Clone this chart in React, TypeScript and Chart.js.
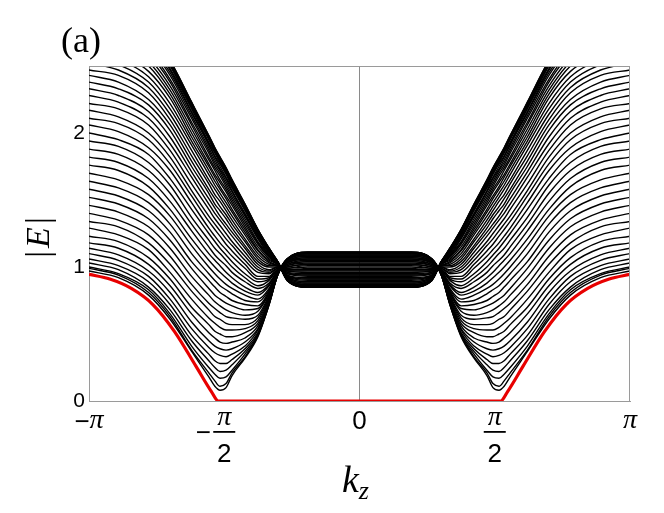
import React, { useEffect, useRef } from 'react';
import { Chart, registerables } from 'chart.js';

Chart.register(...registerables);

// sample positions of k_z on the left half (the figure is mirror-symmetric about k_z = 0)
const KZ_LEFT = [-3.1416, -2.8, -2.45, -2.2, -1.95, -1.75, -1.68, -1.62, -1.55, -1.48, -1.33, -1.18, -1.05, -0.95, -0.84, -0.6, 0];

// |E| of the 50 black bands, one list per k_z sample (band 1 ... band 50)
const E_KZ_M3_14 = [0.97,0.99,1.00,1.03,1.06,1.10,1.14,1.18,1.23,1.29,1.34,1.40,1.46,1.52,1.58,1.64,1.70,1.76,1.82,1.88,1.94,2.00,2.06,2.11,2.17,2.22,2.28,2.33,2.38,2.43,2.47,2.52,2.56,2.60,2.64,2.68,2.71,2.74,2.77,2.80,2.83,2.85,2.87,2.89,2.91,2.92,2.93,2.94,2.94,2.95];
const E_KZ_M2_80 = [0.92,0.94,0.95,0.98,1.01,1.05,1.09,1.14,1.19,1.24,1.30,1.35,1.41,1.47,1.53,1.59,1.65,1.72,1.78,1.84,1.90,1.95,2.01,2.07,2.12,2.18,2.23,2.28,2.33,2.38,2.43,2.47,2.51,2.55,2.59,2.63,2.66,2.69,2.72,2.75,2.78,2.80,2.82,2.84,2.86,2.87,2.88,2.89,2.90,2.90];
const E_KZ_M2_45 = [0.79,0.81,0.83,0.85,0.89,0.93,0.97,1.02,1.07,1.13,1.18,1.24,1.30,1.36,1.42,1.48,1.54,1.60,1.66,1.72,1.78,1.84,1.89,1.95,2.00,2.06,2.11,2.16,2.21,2.25,2.30,2.34,2.38,2.42,2.46,2.50,2.53,2.56,2.59,2.62,2.64,2.66,2.68,2.70,2.72,2.73,2.74,2.75,2.76,2.76];
const E_KZ_M2_20 = [0.61,0.63,0.65,0.68,0.72,0.76,0.81,0.86,0.91,0.96,1.02,1.08,1.14,1.20,1.26,1.32,1.38,1.43,1.49,1.55,1.61,1.66,1.72,1.77,1.82,1.87,1.92,1.97,2.02,2.06,2.10,2.14,2.18,2.22,2.26,2.29,2.32,2.35,2.38,2.40,2.43,2.45,2.47,2.48,2.50,2.51,2.52,2.53,2.54,2.54];
const E_KZ_M1_95 = [0.37,0.38,0.41,0.45,0.49,0.54,0.59,0.65,0.70,0.76,0.82,0.87,0.93,0.99,1.04,1.10,1.16,1.21,1.27,1.32,1.37,1.43,1.48,1.53,1.57,1.62,1.67,1.71,1.75,1.79,1.83,1.87,1.91,1.94,1.97,2.00,2.03,2.06,2.08,2.11,2.13,2.15,2.16,2.18,2.19,2.20,2.21,2.22,2.23,2.23];
const E_KZ_M1_75 = [0.18,0.21,0.25,0.30,0.35,0.40,0.45,0.51,0.57,0.62,0.68,0.73,0.79,0.84,0.90,0.95,1.00,1.05,1.10,1.15,1.20,1.25,1.29,1.34,1.38,1.43,1.47,1.51,1.55,1.58,1.62,1.65,1.69,1.72,1.75,1.77,1.80,1.82,1.85,1.87,1.89,1.91,1.92,1.93,1.95,1.96,1.97,1.97,1.98,1.98];
const E_KZ_M1_68 = [0.11,0.15,0.20,0.25,0.30,0.36,0.41,0.47,0.52,0.58,0.63,0.69,0.74,0.79,0.85,0.90,0.95,1.00,1.05,1.09,1.14,1.19,1.23,1.28,1.32,1.36,1.40,1.44,1.47,1.51,1.54,1.58,1.61,1.64,1.67,1.69,1.72,1.74,1.76,1.78,1.80,1.82,1.83,1.85,1.86,1.87,1.88,1.88,1.89,1.89];
const E_KZ_M1_62 = [0.08,0.11,0.17,0.22,0.28,0.34,0.39,0.44,0.50,0.55,0.61,0.66,0.71,0.76,0.81,0.86,0.91,0.96,1.01,1.05,1.10,1.14,1.18,1.23,1.27,1.31,1.35,1.38,1.42,1.45,1.49,1.52,1.55,1.58,1.60,1.63,1.65,1.68,1.70,1.72,1.73,1.75,1.77,1.78,1.79,1.80,1.81,1.81,1.82,1.82];
const E_KZ_M1_55 = [0.10,0.13,0.18,0.23,0.28,0.33,0.38,0.43,0.48,0.53,0.58,0.63,0.68,0.73,0.78,0.83,0.87,0.92,0.96,1.01,1.05,1.09,1.13,1.17,1.21,1.25,1.29,1.32,1.36,1.39,1.42,1.45,1.48,1.51,1.53,1.56,1.58,1.60,1.62,1.64,1.66,1.67,1.69,1.70,1.71,1.72,1.73,1.73,1.74,1.74];
const E_KZ_M1_48 = [0.19,0.21,0.23,0.27,0.31,0.35,0.39,0.44,0.48,0.53,0.57,0.62,0.66,0.71,0.75,0.80,0.84,0.88,0.92,0.96,1.00,1.04,1.08,1.12,1.16,1.19,1.23,1.26,1.29,1.32,1.35,1.38,1.41,1.43,1.46,1.48,1.50,1.52,1.54,1.56,1.57,1.59,1.60,1.61,1.62,1.63,1.64,1.64,1.65,1.65];
const E_KZ_M1_33 = [0.32,0.33,0.35,0.37,0.39,0.41,0.44,0.47,0.51,0.54,0.57,0.61,0.64,0.68,0.72,0.75,0.79,0.82,0.85,0.89,0.92,0.95,0.99,1.02,1.05,1.08,1.11,1.14,1.16,1.19,1.21,1.24,1.26,1.28,1.30,1.32,1.34,1.36,1.38,1.39,1.40,1.42,1.43,1.44,1.45,1.45,1.46,1.46,1.47,1.47];
const E_KZ_M1_18 = [0.48,0.49,0.49,0.50,0.51,0.53,0.54,0.56,0.58,0.60,0.62,0.64,0.67,0.69,0.71,0.74,0.76,0.79,0.81,0.84,0.86,0.89,0.91,0.93,0.96,0.98,1.00,1.02,1.04,1.06,1.08,1.10,1.12,1.13,1.15,1.17,1.18,1.19,1.21,1.22,1.23,1.24,1.25,1.25,1.26,1.27,1.27,1.28,1.28,1.28];
const E_KZ_M1_05 = [0.72,0.72,0.72,0.73,0.73,0.74,0.74,0.75,0.76,0.77,0.78,0.79,0.80,0.81,0.82,0.83,0.84,0.86,0.87,0.88,0.90,0.91,0.92,0.93,0.95,0.96,0.97,0.98,1.00,1.01,1.02,1.03,1.04,1.05,1.06,1.07,1.08,1.09,1.09,1.10,1.11,1.11,1.12,1.12,1.13,1.13,1.13,1.14,1.14,1.14];
const E_KZ_M0_95 = [0.94,0.94,0.94,0.94,0.94,0.94,0.95,0.95,0.95,0.95,0.95,0.95,0.96,0.96,0.96,0.96,0.97,0.97,0.97,0.97,0.98,0.98,0.98,0.99,0.99,0.99,1.00,1.00,1.00,1.01,1.01,1.01,1.01,1.02,1.02,1.02,1.02,1.03,1.03,1.03,1.03,1.03,1.04,1.04,1.04,1.04,1.04,1.04,1.04,1.04];
const E_KZ_M0_84 = [1.06,1.06,1.06,1.06,1.06,1.06,1.06,1.05,1.05,1.05,1.04,1.04,1.04,1.03,1.03,1.03,1.02,1.02,1.01,1.01,1.00,1.00,0.99,0.99,0.98,0.98,0.98,0.97,0.97,0.96,0.96,0.95,0.95,0.94,0.94,0.93,0.93,0.93,0.92,0.92,0.92,0.91,0.91,0.91,0.91,0.91,0.90,0.90,0.90,0.90];
const E_KZ_M0_60 = [1.11,1.11,1.11,1.11,1.10,1.10,1.10,1.10,1.09,1.09,1.08,1.08,1.07,1.07,1.06,1.06,1.05,1.04,1.04,1.03,1.02,1.02,1.01,1.00,0.99,0.98,0.98,0.97,0.96,0.95,0.94,0.94,0.93,0.92,0.91,0.91,0.90,0.89,0.89,0.88,0.88,0.87,0.87,0.86,0.86,0.86,0.85,0.85,0.85,0.85];
const E_KZ_0 = [1.11,1.11,1.11,1.11,1.10,1.10,1.10,1.10,1.09,1.09,1.08,1.08,1.07,1.07,1.06,1.06,1.05,1.04,1.04,1.03,1.02,1.02,1.01,1.00,0.99,0.98,0.98,0.97,0.96,0.95,0.94,0.94,0.93,0.92,0.91,0.91,0.90,0.89,0.89,0.88,0.88,0.87,0.87,0.86,0.86,0.86,0.85,0.85,0.85,0.85];

// red (surface) band, left half
const RED_KZ_LEFT = [-3.1416, -2.9, -2.65, -2.4, -2.15, -1.9, -1.72, -1.64, 0];
const RED_E_LEFT = [0.945, 0.91, 0.84, 0.72, 0.52, 0.26, 0.07, 0, 0];

const X_TICKS = [-Math.PI, -Math.PI / 2, 0, Math.PI / 2, Math.PI];
const X_TICK_LABELS = ['−π', '−π/2', '0', 'π/2', 'π'];
const Y_TICKS = [0, 1, 2];
const PANEL_LABEL = '(a)';

const SERIF = '"Liberation Serif", "Times New Roman", serif';
const SANS = '"Liberation Sans", Arial, sans-serif';
const FRAME = '#9a9a9a';

const BAND_COLUMNS = [E_KZ_M3_14, E_KZ_M2_80, E_KZ_M2_45, E_KZ_M2_20, E_KZ_M1_95, E_KZ_M1_75, E_KZ_M1_68, E_KZ_M1_62, E_KZ_M1_55, E_KZ_M1_48, E_KZ_M1_33, E_KZ_M1_18, E_KZ_M1_05, E_KZ_M0_95, E_KZ_M0_84, E_KZ_M0_60, E_KZ_0];

const mirrorX = (xs: number[]) => [...xs, ...xs.slice(0, -1).reverse().map((v) => -v)];
const mirrorY = (ys: number[]) => [...ys, ...ys.slice(0, -1).reverse()];

function drawTickLabel(ctx: CanvasRenderingContext2D, label: string, x: number) {
  const neg = label.startsWith('−');
  const body = neg ? label.slice(1) : label;
  ctx.fillStyle = '#000';
  ctx.textBaseline = 'alphabetic';
  if (body.includes('/')) {
    const [num, den] = body.split('/');
    ctx.textAlign = 'center';
    ctx.font = `italic 28px ${SERIF}`;
    ctx.fillText(num, x, 425);
    ctx.fillRect(x - 11, 431, 22, 1.8);
    ctx.font = `26px ${SANS}`;
    ctx.fillText(den, x, 462);
    if (neg) {
      ctx.font = `26px ${SANS}`;
      ctx.fillText('−', x - 21, 441);
    }
  } else if (body === 'π') {
    ctx.textAlign = 'left';
    ctx.font = `26px ${SANS}`;
    const wm = neg ? ctx.measureText('−').width : 0;
    ctx.font = `italic 28px ${SERIF}`;
    const wp = ctx.measureText('π').width;
    const start = x - (wm + wp) / 2;
    if (neg) {
      ctx.font = `26px ${SANS}`;
      ctx.fillText('−', start, 430);
    }
    ctx.font = `italic 28px ${SERIF}`;
    ctx.fillText('π', start + wm, 428);
  } else {
    ctx.textAlign = 'center';
    ctx.font = `26px ${SANS}`;
    ctx.fillText(body, x, 429);
  }
}

const decorPlugin = {
  id: 'decor',
  afterDraw(chart: any) {
    const { ctx, chartArea } = chart;
    const xs = chart.scales.x;
    const { left, right, top, bottom } = chartArea;
    ctx.save();
    ctx.strokeStyle = FRAME;
    ctx.lineWidth = 1;
    ctx.beginPath();
    ctx.moveTo(left, top + 0.5);
    ctx.lineTo(right, top + 0.5);
    ctx.moveTo(right - 0.5, top);
    ctx.lineTo(right - 0.5, bottom);
    ctx.stroke();

    X_TICKS.forEach((v, i) => drawTickLabel(ctx, X_TICK_LABELS[i], xs.getPixelForValue(v)));

    // panel label
    ctx.fillStyle = '#000';
    ctx.textAlign = 'left';
    ctx.textBaseline = 'alphabetic';
    ctx.font = `36px ${SERIF}`;
    ctx.fillText(PANEL_LABEL, 61, 52);

    // x-axis title k_z
    ctx.font = `italic 38px ${SERIF}`;
    const wk = ctx.measureText('k').width;
    ctx.font = `italic 26px ${SERIF}`;
    const wz = ctx.measureText('z').width;
    const cx = (left + right) / 2;
    const sx = cx - (wk + wz) / 2 - 4;
    ctx.font = `italic 38px ${SERIF}`;
    ctx.fillText('k', sx, 492);
    ctx.font = `italic 26px ${SERIF}`;
    ctx.fillText('z', sx + wk, 499);

    // y-axis title |E|
    ctx.translate(40, (top + bottom) / 2 + 4);
    ctx.rotate(-Math.PI / 2);
    ctx.font = `34px ${SERIF}`;
    const wb = ctx.measureText('|').width;
    ctx.font = `italic 34px ${SERIF}`;
    const we = ctx.measureText('E').width;
    const gap = 3;
    const total = wb * 2 + we + gap * 2;
    let px = -total / 2;
    ctx.textBaseline = 'middle';
    ctx.font = `34px ${SERIF}`;
    ctx.fillText('|', px, 0);
    px += wb + gap;
    ctx.font = `italic 34px ${SERIF}`;
    ctx.fillText('E', px, 0);
    px += we + gap;
    ctx.font = `34px ${SERIF}`;
    ctx.fillText('|', px, 0);
    ctx.restore();
  },
};

export default function App() {
  const ref = useRef<HTMLCanvasElement | null>(null);

  useEffect(() => {
    if (!ref.current) return;
    const kzAll = mirrorX(KZ_LEFT);
    const bandCount = BAND_COLUMNS[0].length;
    const datasets: any[] = [];
    for (let b = 0; b < bandCount; b++) {
      const ys = mirrorY(BAND_COLUMNS.map((col) => col[b]));
      datasets.push({
        data: kzAll.map((x, i) => ({ x, y: ys[i] })),
        borderColor: '#000000',
        borderWidth: 1.4,
        pointRadius: 0,
        cubicInterpolationMode: 'monotone',
        order: 1,
      });
    }
    const redKz = mirrorX(RED_KZ_LEFT);
    const redE = mirrorY(RED_E_LEFT);
    datasets.push({
      data: redKz.map((x, i) => ({ x, y: redE[i] })),
      borderColor: 'rgb(232, 0, 0)',
      borderWidth: 3.2,
      pointRadius: 0,
      cubicInterpolationMode: 'monotone',
      order: 0,
    });

    const chart = new Chart(ref.current, {
      type: 'line',
      data: { datasets },
      options: {
        animation: false,
        responsive: false,
        maintainAspectRatio: false,
        devicePixelRatio: 1,
        layout: { padding: { top: 66, right: 34, left: 0, bottom: 0 } },
        plugins: { legend: { display: false }, tooltip: { enabled: false }, title: { display: false } },
        elements: { point: { radius: 0 } },
        scales: {
          x: {
            type: 'linear',
            min: -Math.PI,
            max: Math.PI,
            afterBuildTicks: (s: any) => {
              s.ticks = X_TICKS.map((v) => ({ value: v }));
            },
            afterFit: (s: any) => {
              s.height = 112;
            },
            ticks: { display: false },
            grid: {
              drawTicks: false,
              lineWidth: 1,
              color: (c: any) => (c.tick && Math.abs(c.tick.value) < 1e-9 ? '#8a8a8a' : 'rgba(0,0,0,0)'),
            },
            border: { display: true, color: FRAME, width: 1 },
          },
          y: {
            type: 'linear',
            min: 0,
            max: 2.5,
            afterBuildTicks: (s: any) => {
              s.ticks = Y_TICKS.map((v) => ({ value: v }));
            },
            afterFit: (s: any) => {
              s.width = 89;
            },
            ticks: { color: '#000', font: { family: SANS, size: 21 }, padding: 4 },
            grid: { display: false, drawTicks: false },
            border: { display: true, color: FRAME, width: 1 },
          },
        },
      },
      plugins: [decorPlugin],
    });
    return () => chart.destroy();
  }, []);

  return (
    <div style={{ position: 'fixed', left: 0, top: 0, width: 664, height: 513, background: '#fff' }}>
      <canvas ref={ref} width={664} height={513} style={{ width: 664, height: 513, display: 'block' }} />
    </div>
  );
}
